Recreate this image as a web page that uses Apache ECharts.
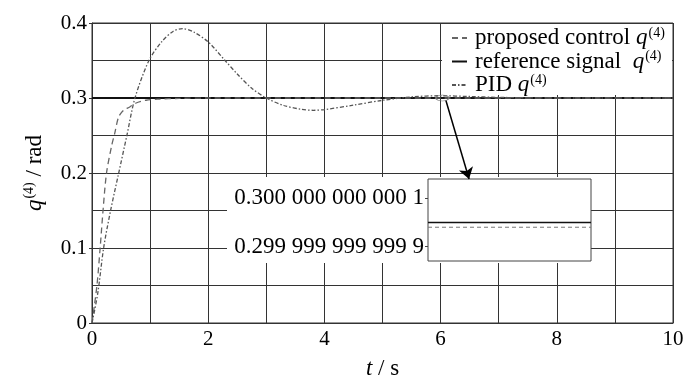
<!DOCTYPE html>
<html><head><meta charset="utf-8">
<script src="https://cdn.jsdelivr.net/npm/echarts@6/dist/echarts.min.js"></script>
<style>html,body{margin:0;padding:0;background:#fff}#c{width:700px;height:386px}</style>
</head><body><div id="c"></div>
<script>
// time (s) and values (rad)
const tProposed = [0, 0.085, 0.14, 0.19, 0.25, 0.34, 0.39, 0.46, 0.55, 0.65, 0.75, 0.93, 1.13, 1.5, 2, 4, 6, 8, 10];
const qProposed = [0, 0.05, 0.1, 0.15, 0.2, 0.237, 0.2525, 0.275, 0.284, 0.288, 0.293, 0.297, 0.2984, 0.2995, 0.3, 0.3, 0.3, 0.3, 0.3];
const tPID = [0, 0.1, 0.2, 0.32, 0.46, 0.6, 0.74, 0.98, 1.2, 1.4, 1.56, 1.75, 2.0, 2.29, 2.5, 2.75, 3.0, 3.3, 3.6, 3.81, 4.0, 4.5, 5.0, 5.5, 6.0, 6.5, 7.0, 8, 10];
const qPID = [0, 0.04, 0.1, 0.15, 0.2, 0.25, 0.3, 0.35, 0.375, 0.389, 0.3925, 0.388, 0.3747, 0.35, 0.332, 0.313, 0.3, 0.29, 0.285, 0.2836, 0.2845, 0.2905, 0.2969, 0.3015, 0.303, 0.302, 0.3008, 0.3, 0.3];
const tRef = [0, 10];
const qRef = [0.3, 0.3];
// inset (zoom near t = 6 s)
const insetT = [0, 1];
const insetRef = [0.3, 0.3];
const insetProposed = [0.29999999999998, 0.29999999999998];
const insetTicks = [0.2999999999999, 0.3000000000001];
const xTicks = [0, 2, 4, 6, 8, 10];
const yTicks = [0, 0.1, 0.2, 0.3, 0.4];
const seriesNames = ['proposed control', 'reference signal', 'PID'];

const zip = (a, b) => a.map((v, i) => [v, b[i]]);
const FONT = "'Liberation Serif','Times New Roman',serif";
const fmtInset = v => { const s = v.toFixed(13); const [ip, dp] = s.split('.'); return ip + '.' + dp.replace(/(\d{3})(?=\d)/g, '$1 '); };

const chart = echarts.init(document.getElementById('c'), null, {renderer: 'canvas'});
chart.setOption({
  animation: false,
  backgroundColor: '#fff',
  textStyle: {fontFamily: FONT, color: '#000'},
  grid: [
    {left: 92, right: 27, top: 23, bottom: 63, show: true, borderColor: '#333', borderWidth: 1, z: 0},
    {left: 428, top: 179, width: 163, height: 82, show: true, borderColor: '#444', borderWidth: 1, backgroundColor: 'transparent', z: 3}
  ],
  graphic: [
    {type: 'rect', shape: {x: 227, y: 177, width: 364, height: 86}, style: {fill: '#fff'}, z: 1, silent: true},
    {type: 'rect', shape: {x: 442, y: 24, width: 230, height: 71}, style: {fill: '#fff'}, z: 1, silent: true}
  ],
  legend: {
    data: seriesNames, orient: 'vertical', left: 446, top: 21, itemGap: 0, itemWidth: 15, itemHeight: 10,
    z: 5,
    itemStyle: {opacity: 0, borderWidth: 0},
    formatter: n => n === 'PID' ? '{n|PID }{q|q}{s|(4)}' : n === 'reference signal' ? '{n|' + n + '  }{q|q}{s|(4)}' : '{n|' + n + ' }{q|q}{s|(4)}',
    textStyle: {fontFamily: FONT, color: '#000', rich: {
      n: {fontSize: 23, lineHeight: 22, fontFamily: FONT, color: '#000', padding: [0, 0, 0, 3]},
      q: {fontSize: 23, lineHeight: 22, fontFamily: FONT, fontStyle: 'italic', color: '#000'},
      s: {fontSize: 14, fontFamily: FONT, color: '#000', verticalAlign: 'top', padding: [0, 0, 10, 1]}
    }}
  },
  xAxis: [
    {type: 'value', gridIndex: 0, min: 0, max: 10, interval: 2,
     axisLine: {show: true, lineStyle: {color: '#333'}}, axisTick: {show: false},
     axisLabel: {fontSize: 21, fontFamily: FONT, color: '#000', margin: 6, customValues: xTicks},
     splitLine: {show: true, lineStyle: {color: '#333', width: 1}},
     minorTick: {show: false, splitNumber: 2}, minorSplitLine: {show: true, lineStyle: {color: '#333', width: 1}},
     name: '{i|t} / s', nameLocation: 'middle', nameGap: 34,
     nameTextStyle: {fontSize: 23, fontFamily: FONT, color: '#000', rich: {i: {fontSize: 23, fontStyle: 'italic', fontFamily: FONT}}}},
    {type: 'value', gridIndex: 1, min: 0, max: 1, show: false}
  ],
  yAxis: [
    {type: 'value', gridIndex: 0, min: 0, max: 0.4, interval: 0.1,
     axisLine: {show: true, lineStyle: {color: '#333'}},
     axisTick: {show: true, length: 3, inside: false, lineStyle: {color: '#333'}},
     axisLabel: {fontSize: 21, fontFamily: FONT, color: '#000', margin: 5, formatter: v => v === 0 ? '0' : v.toFixed(1), customValues: yTicks},
     splitLine: {show: true, lineStyle: {color: '#333', width: 1}},
     minorTick: {show: false, splitNumber: 2}, minorSplitLine: {show: true, lineStyle: {color: '#333', width: 1}},
     name: '{i|q}{s|(4)} / rad', nameLocation: 'middle', nameGap: 44, nameRotate: 90,
     nameTextStyle: {fontSize: 23, fontFamily: FONT, color: '#000', rich: {
       i: {fontSize: 23, fontStyle: 'italic', fontFamily: FONT},
       s: {fontSize: 14, fontFamily: FONT, verticalAlign: 'top', padding: [0, 0, 12, 1]}
     }}},
    {type: 'value', gridIndex: 1, min: 0.29999999999984, max: 0.30000000000018, z: 3,
     axisLine: {show: false}, splitLine: {show: false},
     axisTick: {show: true, length: 3, customValues: insetTicks, lineStyle: {color: '#444'}},
     axisLabel: {fontSize: 23, fontFamily: FONT, color: '#000', margin: 4, customValues: insetTicks, formatter: fmtInset}}
  ],
  series: [
    {name: 'proposed control', type: 'line', xAxisIndex: 0, yAxisIndex: 0, data: zip(tProposed, qProposed),
     symbol: 'none', smooth: 0.3, z: 3,
     lineStyle: {color: '#666', width: 1.3, type: [6, 4]}, itemStyle: {color: '#666'}},
    {name: 'reference signal', type: 'line', xAxisIndex: 0, yAxisIndex: 0, data: zip(tRef, qRef),
     symbol: 'none', z: 2,
     lineStyle: {color: '#111', width: 2}, itemStyle: {color: '#111'},
     markLine: {silent: true, symbol: ['none', 'arrow'], symbolSize: 11, label: {show: false},
       lineStyle: {color: '#000', width: 1.5, type: 'solid'},
       data: [[{coord: [6.09, 0.297]}, {coord: [6.49, 0.192]}]]},
     markPoint: {silent: true, label: {show: false},
       data: [{coord: [6.03, 0.3], symbol: 'circle', symbolSize: [13, 6], itemStyle: {color: 'rgba(0,0,0,0)', borderColor: '#777', borderWidth: 1}}]}},
    {name: 'PID', type: 'line', xAxisIndex: 0, yAxisIndex: 0, data: zip(tPID, qPID),
     symbol: 'none', smooth: 0.3, z: 3,
     lineStyle: {color: '#555', width: 1.3, type: [4, 2, 1.5, 2]}, itemStyle: {color: '#555'}},
    {name: 'inset ref', type: 'line', xAxisIndex: 1, yAxisIndex: 1, data: zip(insetT, insetRef),
     symbol: 'none', z: 4, lineStyle: {color: '#111', width: 1.5}},
    {name: 'inset proposed', type: 'line', xAxisIndex: 1, yAxisIndex: 1, data: zip(insetT, insetProposed),
     symbol: 'none', z: 4, lineStyle: {color: '#777', width: 1, type: [4, 3]}}
  ]
});
</script></body></html>
